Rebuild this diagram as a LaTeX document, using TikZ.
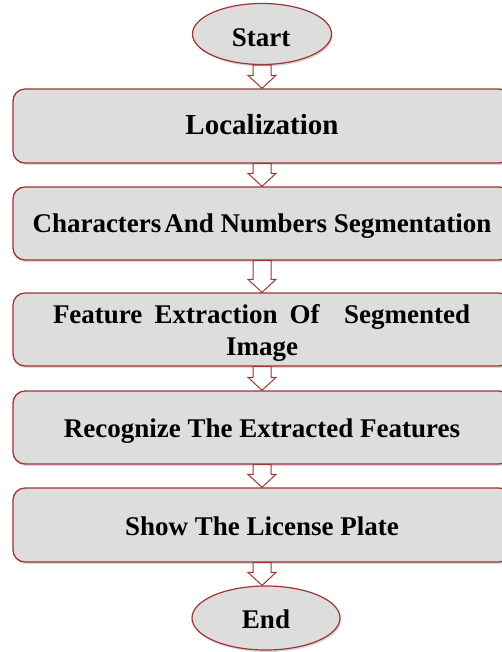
\documentclass[tikz,border=0pt]{standalone}
\usepackage{fontspec}
\setmainfont{Liberation Serif}
\usetikzlibrary{shapes.geometric,shadows,calc}
\definecolor{edge}{RGB}{160,52,52}
\definecolor{fillg}{RGB}{221,221,221}
\tikzset{
  stepbox/.style={draw=edge, line width=1.3pt, fill=fillg, rounded corners=12pt,
    minimum width=498pt, inner sep=0pt,
    drop shadow={opacity=0.3, shadow xshift=1.2pt, shadow yshift=-2pt}},
  termbox/.style={draw=edge, line width=1.2pt, fill=fillg, ellipse, inner sep=0pt,
    drop shadow={opacity=0.3, shadow xshift=1.2pt, shadow yshift=-2pt}},
  lbl/.style={anchor=base, inner sep=0pt, font=\fontsize{27}{32}\selectfont\bfseries},
  blk/.style={draw=edge, line width=1pt, fill=white, line join=miter},
}
\newcommand\blockarr[3]{%
  \draw[blk] let \p1=($(#1.south)$), \p2=($(#2.north)$) in
    (#3-9pt,\y1) -- (#3+9pt,\y1) -- (#3+9pt,\y2+13pt) -- (#3+14pt,\y2+13pt)
    -- (#3,\y2) -- (#3-14pt,\y2+13pt) -- (#3-9pt,\y2+13pt) -- cycle;}
\begin{document}
\begin{tikzpicture}[x=1pt,y=-1pt]
\useasboundingbox (0,0) rectangle (502,652);
\node[termbox, minimum width=139pt, minimum height=61pt] (start) at (262,34) {};
\node[stepbox, minimum height=74pt] (b1) at (262,126) {};
\node[stepbox, minimum height=73pt] (b2) at (262,223.5) {};
\node[stepbox, minimum height=73pt] (b3) at (262,329.5) {};
\node[stepbox, minimum height=73pt] (b4) at (262,427.5) {};
\node[stepbox, minimum height=74pt] (b5) at (262,525) {};
\node[termbox, minimum width=148pt, minimum height=64pt] (end) at (266,618) {};
\blockarr{start}{b1}{262pt}
\blockarr{b1}{b2}{262pt}
\blockarr{b2}{b3}{262pt}
\blockarr{b3}{b4}{262pt}
\blockarr{b4}{b5}{262pt}
\blockarr{b5}{end}{262pt}
\node[lbl] (tstart) at (261,47) {Start};
\node[lbl, font=\fontsize{29}{32}\selectfont\bfseries] (t1) at (262,135) {Localization};
\node[lbl] (t2) at (262,233) {Characters\kern3pt And Numbers Segmentation};
\node[lbl] (t3a) at (261.5,323) {\makebox[417pt][s]{Feature\hfill Extraction\hfill Of\hfill\hfill Segmented}};
\node[lbl] (t3b) at (262,355) {Image};
\node[lbl] (t4) at (262,437) {Recognize The Extracted Features};
\node[lbl] (t5) at (262,535) {Show The License Plate};
\node[lbl] (tend) at (266,628) {End};
\end{tikzpicture}
\end{document}
